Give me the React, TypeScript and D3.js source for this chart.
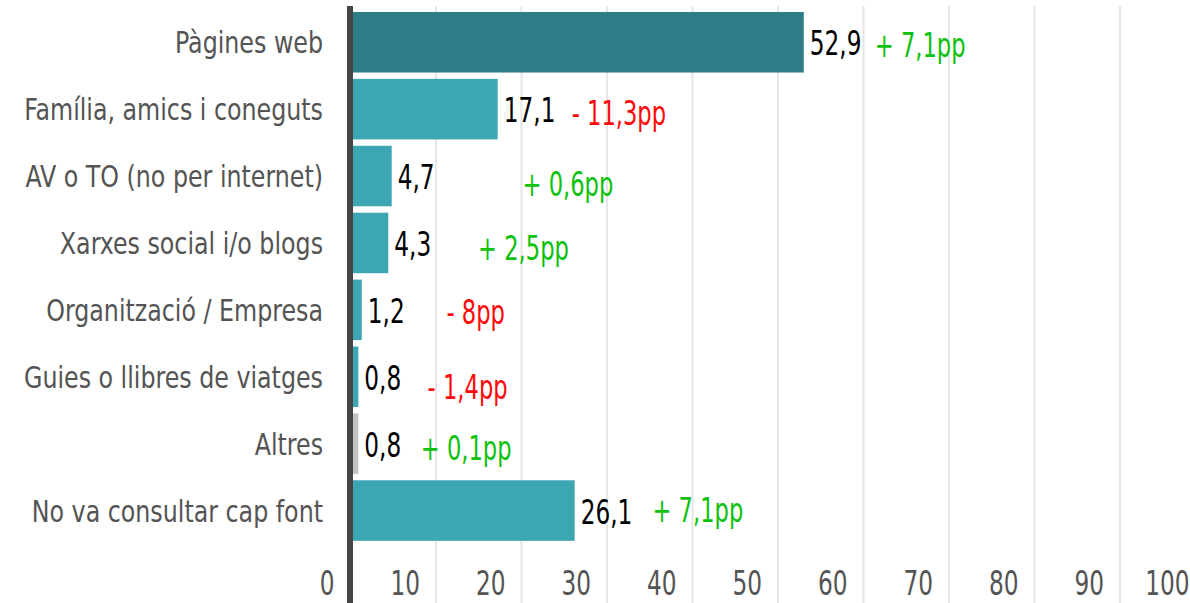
import React from "react";
import * as d3 from "d3";

const categories = [
  "Pàgines web",
  "Família, amics i coneguts",
  "AV o TO (no per internet)",
  "Xarxes social i/o blogs",
  "Organització / Empresa",
  "Guies o llibres de viatges",
  "Altres",
  "No va consultar cap font",
];
const values = [52.9, 17.1, 4.7, 4.3, 1.2, 0.8, 0.8, 26.1];
const changes = [7.1, -11.3, 0.6, 2.5, -8, -1.4, 0.1, 7.1];
const changeLabels = ["+ 7,1pp", "- 11,3pp", "+ 0,6pp", "+ 2,5pp", "- 8pp", "- 1,4pp", "+ 0,1pp", "+ 7,1pp"];
// annotation anchor (in axis units) and vertical nudge of the change labels
const changeAt = [61.2, 25.75, 20.0, 14.8, 11.1, 8.9, 8.1, 35.2];
const changeDy = [2, 3, 7, 4, 1, 9, 3, -2];
const ticks = [0, 10, 20, 30, 40, 50, 60, 70, 80, 90, 100];

const W = 1190;
const H = 603;
const FONT = "'DejaVu Sans Condensed', 'DejaVu Sans', sans-serif";

const fmt = (v: number) => v.toString().replace(".", ",");

function T(props: {
  x: number;
  y: number;
  sx: number;
  size: number;
  fill: string;
  anchor?: string;
  children: React.ReactNode;
}) {
  return (
    <text
      transform={`translate(${props.x},${props.y}) scale(${props.sx},1)`}
      fontSize={props.size}
      fill={props.fill}
      textAnchor={props.anchor || "start"}
    >
      {props.children}
    </text>
  );
}

export default function App() {
  const x = d3.scaleLinear().domain([0, 100]).range([351.5, 1206.5]);
  const y = d3
    .scaleBand<string>()
    .domain(categories)
    .range([8.8, 544])
    .paddingInner(0.095)
    .paddingOuter(0.0475);
  const bw = y.bandwidth();

  const barColor = (i: number) =>
    i === 0 ? "#2e7e88" : categories[i] === "Altres" ? "#c3c3c3" : "#3ca7b3";

  return (
    <svg
      width={W}
      height={H}
      style={{ position: "absolute", left: 0, top: 0, background: "#fff" }}
      fontFamily={FONT}
    >
      {ticks.map((t) =>
        t === 0 ? null : (
          <line key={"g" + t} x1={x(t) - 1} x2={x(t) - 1} y1={6} y2={H} stroke="#e6e6e6" strokeWidth={2} />
        )
      )}
      {categories.map((c, i) => (
        <rect
          key={"b" + c}
          x={x(0)}
          y={y(c)!}
          width={x(values[i]) - x(0)}
          height={bw}
          fill={barColor(i)}
        />
      ))}
      <line x1={350} x2={350} y1={6} y2={H} stroke="#464646" strokeWidth={6} />
      {categories.map((c) => (
        <T key={"c" + c} x={323} y={y(c)! + bw / 2 + 11} sx={0.88} size={30} fill="#545454" anchor="end">
          {c}
        </T>
      ))}
      {categories.map((c, i) => (
        <T key={"v" + c} x={x(values[i]) + 6} y={y(c)! + bw / 2 + 13} sx={0.76} size={34} fill="#000">
          {fmt(values[i])}
        </T>
      ))}
      {categories.map((c, i) => (
        <T
          key={"p" + c}
          x={x(changeAt[i])}
          y={y(c)! + bw / 2 + 13 + changeDy[i]}
          sx={0.74}
          size={34}
          fill={changes[i] < 0 ? "#ff0a0a" : "#0dc10d"}
        >
          {changeLabels[i]}
        </T>
      ))}
      {ticks.map((t) => (
        <T key={"t" + t} x={x(t) - 17} y={595} sx={0.76} size={34} anchor="end" fill="#545454">
          {t}
        </T>
      ))}
    </svg>
  );
}
